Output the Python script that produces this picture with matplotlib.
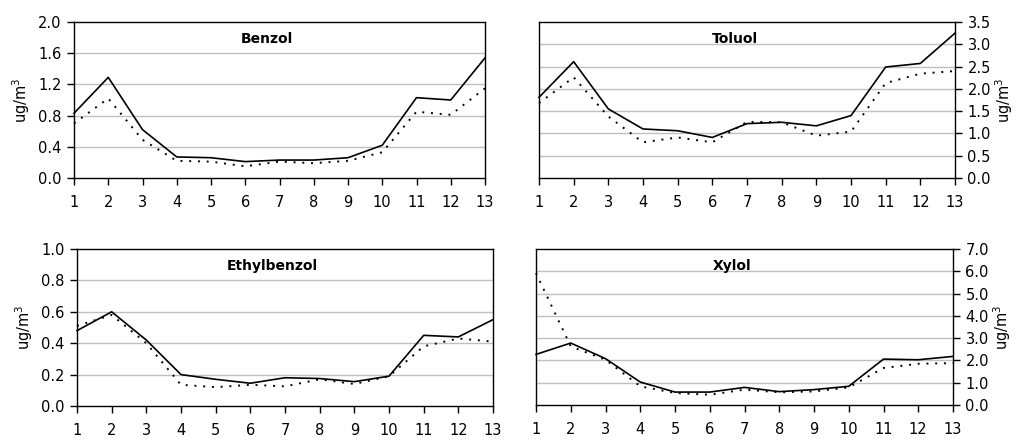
import matplotlib.pyplot as plt

x = list(range(1, 14))

benzol_a = [0.83, 1.29, 0.62, 0.27, 0.26, 0.21, 0.23, 0.23, 0.26, 0.42, 1.03, 1.00, 1.54]
benzol_b = [0.70, 1.02, 0.49, 0.22, 0.21, 0.15, 0.21, 0.19, 0.22, 0.33, 0.85, 0.81, 1.15]

toluol_a = [1.81, 2.61, 1.55, 1.10, 1.06, 0.91, 1.22, 1.25, 1.17, 1.40, 2.49, 2.57, 3.25]
toluol_b = [1.68, 2.26, 1.38, 0.80, 0.91, 0.80, 1.26, 1.25, 0.95, 1.04, 2.13, 2.34, 2.40]

ethyl_a = [0.48, 0.60, 0.42, 0.20, 0.17, 0.145, 0.18, 0.175, 0.155, 0.19, 0.45, 0.44, 0.55]
ethyl_b = [0.51, 0.58, 0.40, 0.135, 0.12, 0.135, 0.125, 0.17, 0.14, 0.19, 0.38, 0.43, 0.41]

xylol_a = [2.27, 2.78, 2.08, 1.03, 0.58, 0.58, 0.79, 0.60, 0.69, 0.84, 2.06, 2.03, 2.18]
xylol_b = [5.92, 2.63, 2.03, 0.84, 0.54, 0.46, 0.69, 0.57, 0.61, 0.79, 1.66, 1.85, 1.88]

W, H = 1017, 440
fig = plt.figure(figsize=(W / 100, H / 100), dpi=100)


def panel(box, name, a, b, ymax, step, right=False):
    l, t, r, btm = box
    ax = fig.add_axes([l / W, 1 - btm / H, (r - l) / W, (btm - t) / H])
    ticks = [i * step for i in range(int(round(ymax / step)) + 1)]
    # light grey gridlines, not at the frame edges
    for v in ticks[1:-1]:
        ax.axhline(v, color='#c0c0c0', lw=1, zorder=1)
    ax.plot(x, a, color='black', lw=1.2, zorder=3, clip_on=False)
    ax.plot(x, b, color='black', lw=1.4, ls=(0, (1, 3.5)), zorder=3, clip_on=False)
    ax.set_xlim(1, 13)
    ax.set_ylim(0, ymax)
    ax.set_xticks(x)
    ax.set_yticks(ticks)
    ax.set_yticklabels(['%.1f' % v for v in ticks])
    for s in ax.spines.values():
        s.set_linewidth(1)
    ax.tick_params(direction='out', length=5, width=1, labelsize=10.5, pad=4)
    ax.tick_params(axis='x', pad=7)
    if right:
        ax.yaxis.tick_right()
        ax.yaxis.set_label_position('right')
        ax.set_ylabel('ug/m$^3$', fontsize=10.5, labelpad=2)
    else:
        ax.set_ylabel('ug/m$^3$', fontsize=10.5, labelpad=4)
    ax.text(0.47, 0.89, name, transform=ax.transAxes, ha='center', va='center',
            fontsize=10, fontweight='bold')
    return ax


panel((74, 22, 485, 178), 'Benzol', benzol_a, benzol_b, 2.0, 0.4)
panel((539, 22, 955, 178), 'Toluol', toluol_a, toluol_b, 3.5, 0.5, right=True)
panel((77, 249, 493, 406), 'Ethylbenzol', ethyl_a, ethyl_b, 1.0, 0.2)
panel((536, 249, 953, 405), 'Xylol', xylol_a, xylol_b, 7.0, 1.0, right=True)

fig.savefig('out.png', dpi=100)
